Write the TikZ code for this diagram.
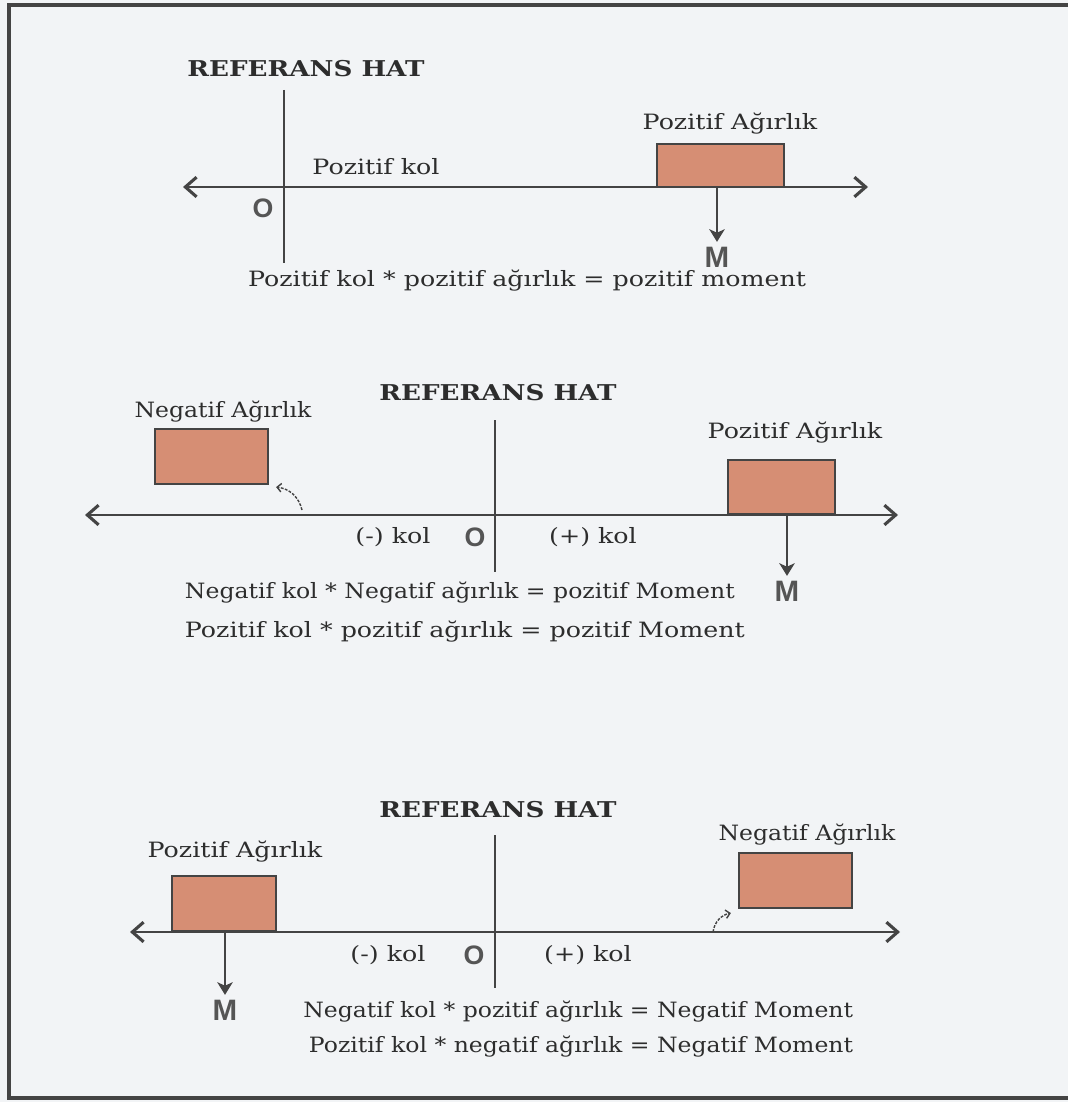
\documentclass[tikz,border=0pt]{standalone}
\usepackage{fontspec}
\setmainfont[FakeStretch=1.2]{DejaVu Serif}
\newfontfamily\harfyazi{Liberation Sans}
\usetikzlibrary{arrows.meta}
\definecolor{zemin}{RGB}{242,244,246}
\definecolor{cizgi}{RGB}{68,68,68}
\definecolor{tugla}{RGB}{214,142,116}
\definecolor{yazi}{RGB}{45,45,45}
\definecolor{harfrenk}{RGB}{85,85,85}
\newcommand{\dar}[1]{\scalebox{0.93}[1]{#1}}
\begin{document}
\begin{tikzpicture}[x=0.025cm, y=-0.025cm, font=\fontsize{15}{17}\selectfont, text=yazi,
  eksen/.style={draw=cizgi, line width=2pt, {Straight Barb[length=8pt,width=14pt,line width=2.2pt]}-{Straight Barb[length=8pt,width=14pt,line width=2.2pt]}},
  refcizgi/.style={draw=cizgi, line width=1.3pt},
  kutu/.style={draw=cizgi, fill=tugla, line width=1.4pt, inner sep=0pt},
  baslik/.style={font=\fontsize{15.5}{18}\selectfont\bfseries},
  harf/.style={font=\fontsize{19}{21}\selectfont\harfyazi\bfseries, text=harfrenk},
  kuvvet/.style={draw=cizgi, line width=1.5pt, -{Stealth[length=9pt,width=11pt,inset=2.5pt]}},
  egri/.style={draw=cizgi, line width=1pt, dash pattern=on 2pt off 1pt, -{Straight Barb[length=3pt,width=6pt]}}]
  % Fond et cadre
  \fill[zemin] (0,0) rectangle (1068,1102);
  \useasboundingbox (0,0) rectangle (1068,1102);
  \draw[cizgi, line width=2.8pt] (1068,5) -- (9,5) -- (9,1098) -- (1068,1098);
  % Schema 1 : pozitif kol, pozitif agirlik
  \node[baslik] (t1) at (306,69) {REFERANS HAT};
  \coordinate (r1u) at (284,90);  \coordinate (r1d) at (284,263);
  \draw[refcizgi, line width=2pt] (r1u) -- (r1d);
  \coordinate (e1l) at (183,187); \coordinate (e1r) at (868,187);
  \draw[eksen] (e1l) -- (e1r);
  \node (k1) at (376,167) {Pozitif kol};
  \node[harf] (o1) at (263,208) {O};
  \node[kutu, minimum width=3.18cm, minimum height=1.08cm] (b1) at (720.5,165.5) {};
  \node (a1) at (730,124) {Pozitif Ağırlık};
  \node[harf, font=\fontsize{21}{23}\selectfont\harfyazi\bfseries] (m1) at (717,257) {M};
  \draw[kuvvet] (b1.south -| m1.north) -- (m1.north);
  \node (f1) at (527,281) {Pozitif kol * pozitif ağırlık = pozitif moment};
  % Schema 2 : les deux cotes, moment positif
  \node[baslik] (t2) at (498,393) {REFERANS HAT};
  \coordinate (r2u) at (495,420); \coordinate (r2d) at (495,572);
  \draw[refcizgi] (r2u) -- (r2d);
  \coordinate (e2l) at (85,515);  \coordinate (e2r) at (898,515);
  \draw[eksen] (e2l) -- (e2r);
  \node (k2n) at (393,537) {(-) kol};
  \node[harf] (o2) at (475,537) {O};
  \node (k2p) at (593,537) {(+) kol};
  \node[kutu, minimum width=2.83cm, minimum height=1.38cm] (b2n) at (211.5,456.5) {};
  \node (a2n) at (223,412) {\dar{Negatif Ağırlık}};
  \coordinate (c2) at (302,510);
  \draw[egri] (c2) to[bend right=35] ([shift={(7,2)}]b2n.south east);
  \node[kutu, minimum width=2.68cm, minimum height=1.35cm] (b2p) at (781.5,487) {};
  \node (a2p) at (795,433) {Pozitif Ağırlık};
  \node[harf, font=\fontsize{21}{23}\selectfont\harfyazi\bfseries] (m2) at (787,591) {M};
  \draw[kuvvet] (b2p.south -| m2.north) -- (m2.north);
  \node[anchor=west] (f2a) at (180,593) {\dar{Negatif kol * Negatif ağırlık = pozitif Moment}};
  \node[anchor=west] (f2b) at (180,632) {Pozitif kol * pozitif ağırlık = pozitif Moment};
  % Schema 3 : moment negatif
  \node[baslik] (t3) at (498,810) {REFERANS HAT};
  \coordinate (r3u) at (495,835); \coordinate (r3d) at (495,988);
  \draw[refcizgi] (r3u) -- (r3d);
  \coordinate (e3l) at (130,932); \coordinate (e3r) at (900,932);
  \draw[eksen] (e3l) -- (e3r);
  \node (k3n) at (388,955) {(-) kol};
  \node[harf] (o3) at (474,955) {O};
  \node (k3p) at (588,955) {(+) kol};
  \node[kutu, minimum width=2.6cm, minimum height=1.38cm] (b3p) at (224,903.5) {};
  \node (a3p) at (235,852) {Pozitif Ağırlık};
  \node[harf, font=\fontsize{21}{23}\selectfont\harfyazi\bfseries] (m3) at (225,1010) {M};
  \draw[kuvvet] (b3p.south -| m3.north) -- (m3.north);
  \node[kutu, minimum width=2.83cm, minimum height=1.38cm] (b3n) at (795.5,880.5) {};
  \node (a3n) at (807,835) {\dar{Negatif Ağırlık}};
  \coordinate (c3) at (713,932);
  \draw[egri] (c3) to[bend left=35] ([shift={(-7,4)}]b3n.south west);
  \node[anchor=east] (f3a) at (858,1012) {\dar{Negatif kol * pozitif ağırlık = Negatif Moment}};
  \node[anchor=east] (f3b) at (858,1047) {\dar{Pozitif kol * negatif ağırlık = Negatif Moment}};
\end{tikzpicture}
\end{document}
